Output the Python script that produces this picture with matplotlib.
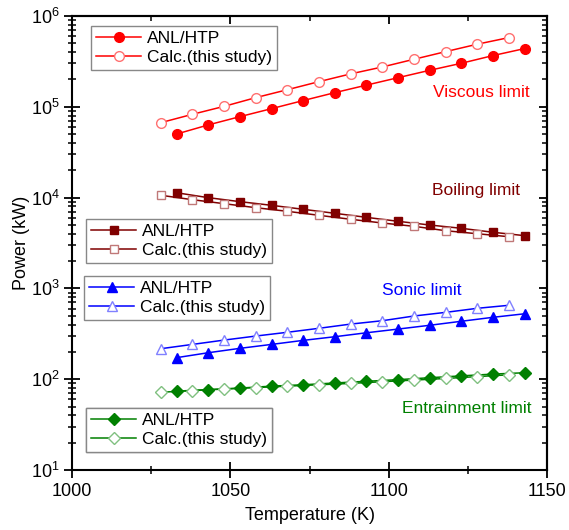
import matplotlib.pyplot as plt
import numpy as np

plt.rcParams['font.family'] = ['Liberation Sans', 'DejaVu Sans']
plt.rcParams['mathtext.fontset'] = 'custom'
plt.rcParams['mathtext.rm'] = 'Liberation Sans'

# temperatures (K): ANL/HTP points and this-study points
t_anl = [1033, 1043, 1053, 1063, 1073, 1083, 1093, 1103, 1113, 1123, 1133, 1143]
t_calc = [1028, 1038, 1048, 1058, 1068, 1078, 1088, 1098, 1108, 1118, 1128, 1138]

# power (kW)
visc_anl = [50100, 63100, 77800, 95300, 117000, 143000, 173000, 209000, 252000, 301000, 366000, 437000]
visc_calc = [66800, 82600, 101000, 126000, 154000, 189000, 230000, 274000, 333000, 404000, 488000, 577000]
boil_anl = [11300, 9980, 9020, 8220, 7430, 6710, 6060, 5480, 4990, 4590, 4150, 3810]
boil_calc = [10600, 9480, 8570, 7740, 7060, 6380, 5770, 5250, 4830, 4320, 4000, 3710]
sonic_anl = [173, 196, 219, 242, 268, 294, 325, 357, 393, 435, 481, 526]
sonic_calc = [217, 242, 270, 299, 329, 364, 405, 441, 497, 545, 604, 652]
entr_anl = [74, 77, 80, 84, 87, 91, 95, 99, 104, 109, 114, 118]
entr_calc = [72, 75, 78, 81, 84, 87, 90, 94, 98, 102, 107, 112]

limits = [
    ('Viscous limit', visc_anl, visc_calc, 'o', '#ff0000', '#ff7070', 7.0),
    ('Boiling limit', boil_anl, boil_calc, 's', '#800000', '#c07878', 6.0),
    ('Sonic limit', sonic_anl, sonic_calc, '^', '#0000ff', '#8080ff', 7.0),
    ('Entrainment limit', entr_anl, entr_calc, 'D', '#008000', '#80c080', 6.0),
]

fig = plt.figure(figsize=(5.69, 5.30), dpi=100)
ax = fig.add_axes([0.127, 0.113, 0.834, 0.857])

legend_spots = [(91, 26), (86, 219), (84, 276), (86, 408)]
handles = []
for name, anl, calc, mk, col, light, ms in limits:
    h1, = ax.plot(t_anl, anl, marker=mk, color=col, mfc=col, mec=col, ms=ms, lw=1.1)
    h2, = ax.plot(t_calc, calc, marker=mk, color=col, mfc='white', mec=light, ms=ms,
                  mew=1.0, lw=1.1)
    handles.append((h1, h2))

ax.set_yscale('log')
ax.set_xlim(1000, 1150)
ax.set_ylim(10, 1e6)
ax.set_xticks([1000, 1050, 1100, 1150])
ax.set_xticks([1025, 1075, 1125], minor=True)
ax.set_xlabel('Temperature (K)', fontsize=13, labelpad=5)
ax.set_ylabel('Power (kW)', fontsize=13, labelpad=1)

for s in ax.spines.values():
    s.set_linewidth(1.5)
ax.tick_params(which='major', direction='inout', length=11, width=1.3, labelsize=13,
               top=False, right=False)
ax.tick_params(which='minor', direction='inout', length=6, width=1.1,
               top=False, right=False)

# inward ticks on the top and right edges
top = ax.secondary_xaxis('top')
top.set_xticks([1000, 1050, 1100, 1150])
top.set_xticks([1025, 1075, 1125], minor=True)
top.tick_params(which='major', direction='in', length=6, width=1.3, labeltop=False)
top.tick_params(which='minor', direction='in', length=3.5, width=1.1)
right = ax.secondary_yaxis('right')
right.tick_params(which='major', direction='in', length=6, width=1.3, labelright=False)
right.tick_params(which='minor', direction='in', length=3.5, width=1.1)
right.yaxis.set_minor_formatter(plt.NullFormatter())
top.spines['top'].set_linewidth(1.5)
right.spines['right'].set_linewidth(1.5)

W, H = 569, 530
for (h1, h2), (px, py) in zip(handles, legend_spots):
    leg = ax.legend([h1, h2], ['ANL/HTP', 'Calc.(this study)'], loc='upper left',
                    bbox_to_anchor=(px / W, 1 - py / H), bbox_transform=fig.transFigure,
                    borderaxespad=0, fancybox=False, framealpha=1, edgecolor='#888888',
                    fontsize=12.5, handlelength=2.6, handletextpad=0.3, labelspacing=0.2,
                    borderpad=0.3)
    leg.get_frame().set_linewidth(1.0)
    ax.add_artist(leg)

ax.text(1144.7, 1.42e5, 'Viscous limit', color='#ff0000', fontsize=12.5,
        ha='right', va='center')
ax.text(1141.5, 1.21e4, 'Boiling limit', color='#800000', fontsize=12.5,
        ha='right', va='center')
ax.text(1110.5, 960, 'Sonic limit', color='#0000ff', fontsize=12.5,
        ha='center', va='center')
ax.text(1145.3, 48, 'Entrainment limit', color='#008000', fontsize=12.5,
        ha='right', va='center')

fig.savefig('out.png', dpi=100)
